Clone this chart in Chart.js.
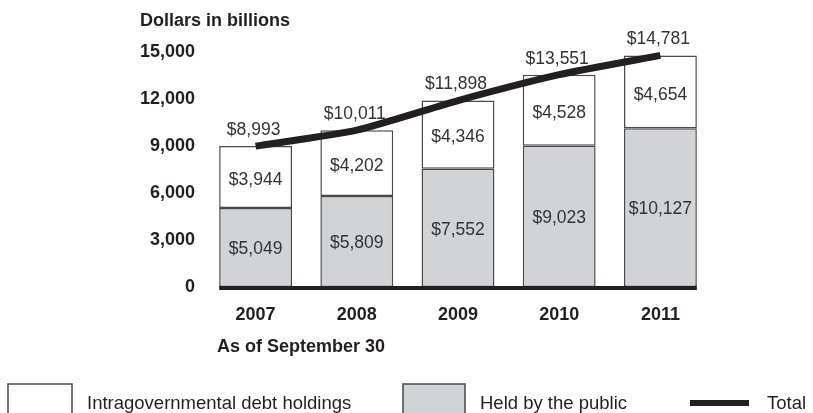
<!DOCTYPE html>
<html>
<head>
<meta charset="utf-8">
<script src="https://cdn.jsdelivr.net/npm/chart.js@4.4.1/dist/chart.umd.min.js"></script>
<style>
    html, body { margin: 0; padding: 0; background: #ffffff; }
    #wrap { width: 813px; height: 413px; }
</style>
</head>
<body>
<div id="wrap"><canvas id="chartDeuda"></canvas></div>
<script>
// Datos (miles de millones de dolares, al 30 de septiembre)
const years = ['2007', '2008', '2009', '2010', '2011'];
const heldByPublic = [5049, 5809, 7552, 9023, 10127];
const intragovernmental = [3944, 4202, 4346, 4528, 4654];
const totals = [8993, 10011, 11898, 13551, 14781];
const yTicks = [0, 3000, 6000, 9000, 12000, 15000];

const INK = '#231f20';
const GRAY = '#d1d3d4';
const EDGE = '#4a4a4a';
const FONT = "'Liberation Sans', Arial, Helvetica, sans-serif";

function money(v) {
    return '$' + v.toLocaleString('en-US');
}

// Etiquetas, linea base, textos y leyenda
const extras = {
    id: 'extras',
    afterDatasetsDraw(chart) {
        const ctx = chart.ctx;
        const y = chart.scales.y;
        const gray = chart.getDatasetMeta(0).data;
        const white = chart.getDatasetMeta(1).data;

        ctx.save();

        // linea base gruesa
        const first = gray[0], last = gray[gray.length - 1];
        ctx.strokeStyle = INK;
        ctx.lineWidth = 4;
        ctx.beginPath();
        ctx.moveTo(first.x - first.width / 2, y.getPixelForValue(0) + 1);
        ctx.lineTo(last.x + last.width / 2, y.getPixelForValue(0) + 1);
        ctx.stroke();

        // valores dentro de las barras y totales arriba
        ctx.fillStyle = '#333333';
        ctx.font = '17.5px ' + FONT;
        ctx.textAlign = 'center';
        ctx.textBaseline = 'middle';
        gray.forEach((bar, i) => {
            ctx.fillText(money(heldByPublic[i]), bar.x, (bar.y + bar.base) / 2 + 2);
        });
        white.forEach((bar, i) => {
            ctx.fillText(money(intragovernmental[i]), bar.x, (bar.y + bar.base) / 2 + 3);
            ctx.fillText(money(totals[i]), bar.x - 2, bar.y - 16);
        });

        // textos en negrita
        ctx.fillStyle = INK;
        ctx.font = 'bold 18px ' + FONT;
        ctx.textAlign = 'left';
        ctx.fillText('Dollars in billions', 140, 21);
        ctx.fillText('As of September 30', 217, 347);

        // leyenda
        ctx.lineWidth = 1.5;
        ctx.strokeStyle = EDGE;
        ctx.fillStyle = '#ffffff';
        ctx.fillRect(8, 384, 64, 40);
        ctx.strokeRect(8, 384, 64, 40);
        ctx.fillStyle = GRAY;
        ctx.fillRect(403, 384, 62, 40);
        ctx.strokeRect(403, 384, 62, 40);
        ctx.strokeStyle = INK;
        ctx.lineWidth = 6;
        ctx.beginPath();
        ctx.moveTo(690, 403);
        ctx.lineTo(749, 403);
        ctx.stroke();

        ctx.fillStyle = INK;
        ctx.font = '18.5px ' + FONT;
        ctx.fillText('Intragovernmental debt holdings', 87, 404);
        ctx.fillText('Held by the public', 480, 404);
        ctx.fillText('Total', 767, 404);

        ctx.restore();
    }
};

new Chart(document.getElementById('chartDeuda'), {
    data: {
        labels: years,
        datasets: [
            {
                type: 'bar',
                label: 'Held by the public',
                data: heldByPublic,
                backgroundColor: GRAY,
                borderColor: EDGE,
                borderWidth: 1.5,
                borderSkipped: false,
                stack: 'debt',
                order: 1,
                barPercentage: 0.72,
                categoryPercentage: 1
            },
            {
                type: 'bar',
                label: 'Intragovernmental debt holdings',
                data: intragovernmental,
                backgroundColor: '#ffffff',
                borderColor: EDGE,
                borderWidth: 1.5,
                borderSkipped: false,
                stack: 'debt',
                order: 1,
                barPercentage: 0.72,
                categoryPercentage: 1
            },
            {
                type: 'line',
                label: 'Total',
                data: totals,
                borderColor: INK,
                borderWidth: 7,
                borderCapStyle: 'butt',
                pointRadius: 0,
                tension: 0.2,
                stack: 'total',
                order: 0,
                clip: false
            }
        ]
    },
    options: {
        responsive: true,
        maintainAspectRatio: false,
        animation: false,
        events: [],
        layout: { padding: { top: 52, right: 102, left: 0, bottom: 0 } },
        plugins: {
            legend: { display: false },
            tooltip: { enabled: false }
        },
        scales: {
            x: {
                stacked: true,
                grid: { display: false, drawTicks: false },
                border: { display: false },
                ticks: {
                    color: INK,
                    padding: 17,
                    font: { family: FONT, size: 18, weight: 'bold' }
                },
                afterFit: scale => { scale.height = 126; }
            },
            y: {
                stacked: true,
                min: 0,
                max: 15000,
                afterBuildTicks: scale => { scale.ticks = yTicks.map(v => ({ value: v })); },
                grid: { display: false, drawTicks: false },
                border: { display: false },
                ticks: {
                    color: INK,
                    padding: 10,
                    font: { family: FONT, size: 18, weight: 'bold' },
                    callback: v => v.toLocaleString('en-US')
                },
                afterFit: scale => { scale.width = 205; }
            }
        }
    },
    plugins: [extras]
});
</script>
</body>
</html>
